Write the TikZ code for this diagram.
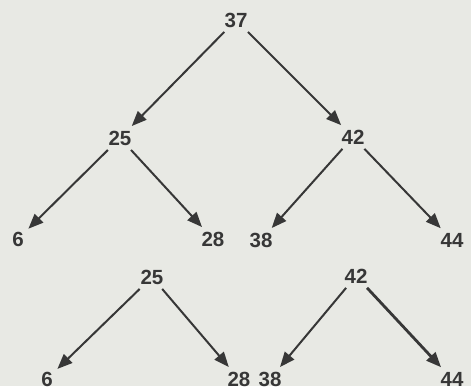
\documentclass[tikz,border=0pt]{standalone}
\usepackage{fontspec}
\setmainfont{Liberation Sans}
\usetikzlibrary{arrows.meta}
\definecolor{paper}{RGB}{232,233,228}
\definecolor{ink}{RGB}{55,55,55}
\begin{document}
\begin{tikzpicture}[x=1pt,y=-1pt,
    num/.style={inner sep=4.5pt, text=ink, font=\fontsize{20.5}{22}\selectfont\bfseries},
    edge/.style={draw=ink, line width=2pt, -{Triangle[length=15pt,width=12pt]}}]
                    \fill[paper] (0,0) rectangle (471,386);
                    % Nodes (upper tree)
                    \node[num] (37) at (236,20) {37};
                    \node[num] (25) at (120,138) {25};
                    \node[num] (42) at (353,137) {42};
                    \node[num] (6) at (18,239) {6};
                    \node[num] (28) at (213,239) {28};
                    \node[num] (38) at (261,240) {38};
                    \node[num] (44) at (452,240) {44};
                    % Nodes (lower trees)
                    \node[num] (25b) at (152,277) {25};
                    \node[num] (42b) at (356,276) {42};
                    \node[num] (6b) at (47,379) {6};
                    \node[num] (28b) at (239,379) {28};
                    \node[num] (38b) at (270,379) {38};
                    \node[num] (44b) at (452,379) {44};
                    % Edges
                    \draw[edge] (37) -- (25);
                    \draw[edge] (37) -- (42);
                    \draw[edge] (25) -- (6);
                    \draw[edge] (25) -- (28);
                    \draw[edge] (42) -- (38);
                    \draw[edge] (42) -- (44);
                    \draw[edge] (25b) -- (6b);
                    \draw[edge] (25b) -- (28b);
                    \draw[edge] (42b) -- (38b);
                    \draw[edge, line width=2.8pt] (42b) -- (44b);
\end{tikzpicture}
\end{document}
